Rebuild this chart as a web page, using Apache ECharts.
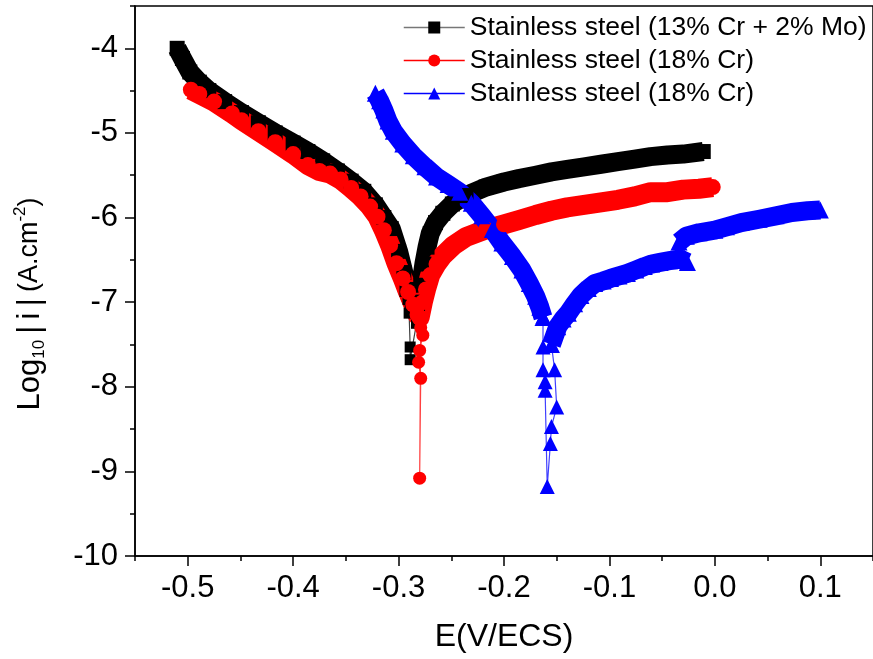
<!DOCTYPE html>
<html>
<head>
<meta charset="utf-8">
<script src="https://cdn.jsdelivr.net/npm/echarts@6/dist/echarts.min.js"></script>
<style>
html,body{margin:0;padding:0;background:#fff;}
#chart{width:873px;height:659px;}
</style>
</head>
<body>
<div id="chart"></div>
<script>
// ---- tick labels ----
const xTickValues = [-0.5, -0.4, -0.3, -0.2, -0.1, 0.0, 0.1];
const yTickValues = [-10, -9, -8, -7, -6, -5, -4];

// ---- series names / legend labels ----
const seriesLabels = {
  ss13: 'Stainless steel (13% Cr + 2% Mo)',
  ss18a: 'Stainless steel (18% Cr)',
  ss18b: 'Stainless steel (18% Cr)'
};

// ---- Stainless steel (13% Cr + 2% Mo): [E (V/ECS), log10|i|] ----
const ss13Main = [
  [-0.510, -4.00], [-0.505, -4.12], [-0.498, -4.28], [-0.489, -4.40], [-0.480, -4.50],
  [-0.465, -4.63], [-0.449, -4.76], [-0.433, -4.88], [-0.417, -5.00], [-0.400, -5.12],
  [-0.386, -5.22], [-0.372, -5.33], [-0.358, -5.45], [-0.345, -5.57], [-0.333, -5.69],
  [-0.322, -5.85], [-0.314, -6.00], [-0.307, -6.13], [-0.300, -6.40], [-0.295, -6.65],
  [-0.292, -6.85], [-0.287, -7.00], [-0.282, -7.02], [-0.279, -6.80], [-0.276, -6.55],
  [-0.273, -6.35], [-0.270, -6.19], [-0.265, -6.06], [-0.258, -5.95], [-0.249, -5.84],
  [-0.236, -5.74], [-0.217, -5.64], [-0.200, -5.58], [-0.186, -5.54], [-0.170, -5.50],
  [-0.155, -5.46], [-0.140, -5.43], [-0.124, -5.40], [-0.108, -5.37], [-0.092, -5.34],
  [-0.076, -5.31], [-0.061, -5.28], [-0.045, -5.26], [-0.030, -5.25], [-0.011, -5.22]
];
const ss13Tail = [
  [-0.291, -6.97], [-0.290, -7.13], [-0.289, -7.53], [-0.289, -7.68], [-0.283, -7.25]
];

// ---- Stainless steel (18% Cr), red ----
const ss18aMain = [
  [-0.497, -4.49], [-0.489, -4.54], [-0.475, -4.63], [-0.458, -4.77], [-0.449, -4.85],
  [-0.433, -4.98], [-0.417, -5.11], [-0.400, -5.25], [-0.386, -5.38], [-0.375, -5.45],
  [-0.365, -5.48], [-0.355, -5.55], [-0.345, -5.65], [-0.336, -5.75], [-0.327, -5.87],
  [-0.320, -5.99], [-0.314, -6.15], [-0.308, -6.33], [-0.302, -6.54], [-0.296, -6.72],
  [-0.291, -6.88], [-0.286, -7.03], [-0.282, -7.15], [-0.280, -7.18], [-0.277, -7.00],
  [-0.274, -6.85], [-0.270, -6.68], [-0.264, -6.55], [-0.258, -6.45], [-0.248, -6.33],
  [-0.236, -6.23], [-0.217, -6.14], [-0.200, -6.08], [-0.186, -6.03], [-0.170, -5.97],
  [-0.155, -5.92], [-0.140, -5.88], [-0.124, -5.85], [-0.108, -5.82], [-0.092, -5.79],
  [-0.076, -5.75], [-0.061, -5.70], [-0.045, -5.70], [-0.030, -5.67], [-0.015, -5.66],
  [-0.002, -5.64]
];
const ss18aTail = [
  [-0.281, -7.20], [-0.277, -7.39], [-0.280, -7.57], [-0.281, -7.71], [-0.279, -7.90],
  [-0.280, -9.08], [-0.279, -7.30]
];

// ---- Stainless steel (18% Cr), blue ----
const ss18bCathodic = [
  [-0.322, -4.53], [-0.318, -4.62], [-0.314, -4.73], [-0.310, -4.86], [-0.305, -4.98],
  [-0.296, -5.13], [-0.286, -5.27], [-0.275, -5.40], [-0.264, -5.52], [-0.253, -5.61],
  [-0.242, -5.70], [-0.231, -5.83], [-0.221, -5.98], [-0.211, -6.14], [-0.202, -6.30],
  [-0.192, -6.46], [-0.183, -6.62], [-0.176, -6.78], [-0.170, -6.93], [-0.166, -7.06],
  [-0.163, -7.18]
];
const ss18bAnodicLow = [
  [-0.155, -7.50], [-0.149, -7.29], [-0.144, -7.20], [-0.139, -7.13], [-0.133, -7.02],
  [-0.127, -6.92], [-0.120, -6.84], [-0.114, -6.78], [-0.106, -6.75], [-0.099, -6.72],
  [-0.091, -6.69], [-0.083, -6.66], [-0.075, -6.62], [-0.067, -6.58], [-0.060, -6.55],
  [-0.052, -6.53], [-0.043, -6.51], [-0.033, -6.49], [-0.026, -6.53]
];
const ss18bAnodicHigh = [
  [-0.034, -6.29], [-0.027, -6.22], [-0.015, -6.18], [0.000, -6.15], [0.011, -6.11],
  [0.025, -6.06], [0.042, -6.02], [0.058, -5.98], [0.073, -5.94], [0.088, -5.92],
  [0.100, -5.91]
];
const ss18bTail = [
  [-0.163, -7.17], [-0.163, -7.53], [-0.163, -7.80], [-0.161, -7.94], [-0.161, -8.04],
  [-0.159, -9.18], [-0.156, -8.67], [-0.155, -8.47], [-0.150, -8.24], [-0.152, -7.80],
  [-0.155, -7.50]
];
const ss18bJump = [[-0.026, -6.53], [-0.029, -6.45], [-0.029, -6.30]];

// ---------------------------------------------------------------
const FONT = '"Liberation Sans", Arial, Helvetica, sans-serif';
const chart = echarts.init(document.getElementById('chart'), null, {renderer: 'canvas'});

function band(name, data, color, symbol, size, width) {
  return {
    name: name, type: 'line', data: data, xAxisIndex: 0, yAxisIndex: 0,
    symbol: symbol, symbolSize: size, showSymbol: true,
    itemStyle: {color: color},
    lineStyle: {color: color, width: width, cap: 'butt', join: 'round'},
    emphasis: {disabled: true}, silent: true, animation: false, z: 2
  };
}
function tail(name, data, color, symbol, size) {
  return {
    name: name, type: 'line', data: data, xAxisIndex: 0, yAxisIndex: 0,
    symbol: symbol, symbolSize: size, showSymbol: true,
    itemStyle: {color: color},
    lineStyle: {color: color, width: 1.2, opacity: 0.75},
    emphasis: {disabled: true}, silent: true, animation: false, z: 2
  };
}

const blueMain = ss18bCathodic.concat(['-'], ss18bAnodicLow, ['-'], ss18bAnodicHigh);

const option = {
  backgroundColor: '#fff',
  animation: false,
  grid: {
    left: 135, top: 6, width: 747, height: 550,
    show: true, borderColor: '#000', borderWidth: 1.5, backgroundColor: 'transparent'
  },
  legend: {
    orient: 'vertical', left: 398, top: 9,
    itemWidth: 61, itemHeight: 15, itemGap: 6,
    data: [
      {name: 'ss13', lineStyle: {color: '#777', width: 1.5}},
      {name: 'ss18a', lineStyle: {color: '#ff0000', width: 1.5}},
      {name: 'ss18b', lineStyle: {color: '#0000ff', width: 1.5}}
    ],
    lineStyle: {width: 1.5},
    formatter: function (n) { return seriesLabels[n]; },
    textStyle: {fontFamily: FONT, fontSize: 26.5, color: '#000', lineHeight: 26},
    selectedMode: false
  },
  xAxis: [{
    type: 'value', min: -0.55, max: 0.15, position: 'bottom',
    axisLine: {show: true, onZero: false, lineStyle: {color: '#000', width: 1.5}},
    axisTick: {show: true, length: 10, lineStyle: {color: '#000', width: 1.5}, customValues: xTickValues},
    axisLabel: {
      show: true, margin: 17, customValues: xTickValues,
      formatter: function (v) { return v.toFixed(1); },
      fontFamily: FONT, fontSize: 31, color: '#000'
    },
    splitLine: {show: false},
    name: 'E(V/ECS)', nameLocation: 'middle', nameGap: 65,
    nameTextStyle: {fontFamily: FONT, fontSize: 32, color: '#000'}
  }, {
    type: 'value', min: -0.55, max: 0.15, interval: 0.05, position: 'bottom',
    axisLine: {show: false, onZero: false},
    axisTick: {show: true, length: 5, lineStyle: {color: '#000', width: 1.5}},
    axisLabel: {show: false}, splitLine: {show: false}
  }],
  yAxis: [{
    type: 'value', min: -10, max: -3.5, position: 'left',
    axisLine: {show: true, onZero: false, lineStyle: {color: '#000', width: 1.5}},
    axisTick: {show: true, length: 10, lineStyle: {color: '#000', width: 1.5}, customValues: yTickValues},
    axisLabel: {
      show: true, margin: 17, customValues: yTickValues,
      formatter: function (v) { return String(Math.round(v)); },
      fontFamily: FONT, fontSize: 31, color: '#000'
    },
    splitLine: {show: false}
  }, {
    type: 'value', min: -10, max: -3.5, interval: 0.5, position: 'left',
    axisLine: {show: false, onZero: false},
    axisTick: {show: true, length: 5, lineStyle: {color: '#000', width: 1.5}},
    axisLabel: {show: false}, splitLine: {show: false}
  }],
  graphic: [{
    type: 'text', x: 30, y: 304, rotation: Math.PI / 2, silent: true,
    style: {
      text: '{a|Log}{s|10}{a|\u2009|\u2009i\u2009|\u2009}{b|(A.cm}{p|-2}{b|)}',
      align: 'center', verticalAlign: 'middle', fill: '#000',
      rich: {
        a: {fontFamily: FONT, fontSize: 31, lineHeight: 36, fill: '#000', verticalAlign: 'middle'},
        b: {fontFamily: FONT, fontSize: 27, lineHeight: 36, fill: '#000', verticalAlign: 'middle'},
        s: {fontFamily: FONT, fontSize: 17, lineHeight: 17, fill: '#000', verticalAlign: 'bottom'},
        p: {fontFamily: FONT, fontSize: 17, lineHeight: 17, fill: '#000', verticalAlign: 'top'}
      }
    }
  }],
  series: [
    band('ss13', ss13Main, '#000000', 'rect', 15, 19),
    tail('ss13tail', ss13Tail, '#000000', 'rect', 11),
    band('ss18a', ss18aMain, '#ff0000', 'circle', 16, 20),
    tail('ss18atail', ss18aTail, '#ff0000', 'circle', 13),
    band('ss18b', blueMain, '#0000ff', 'triangle', 17, 19),
    tail('ss18btail', ss18bTail, '#0000ff', 'triangle', 15),
    tail('ss18bjump', ss18bJump, '#0000ff', 'none', 0)
  ]
};
chart.setOption(option);
</script>
</body>
</html>
